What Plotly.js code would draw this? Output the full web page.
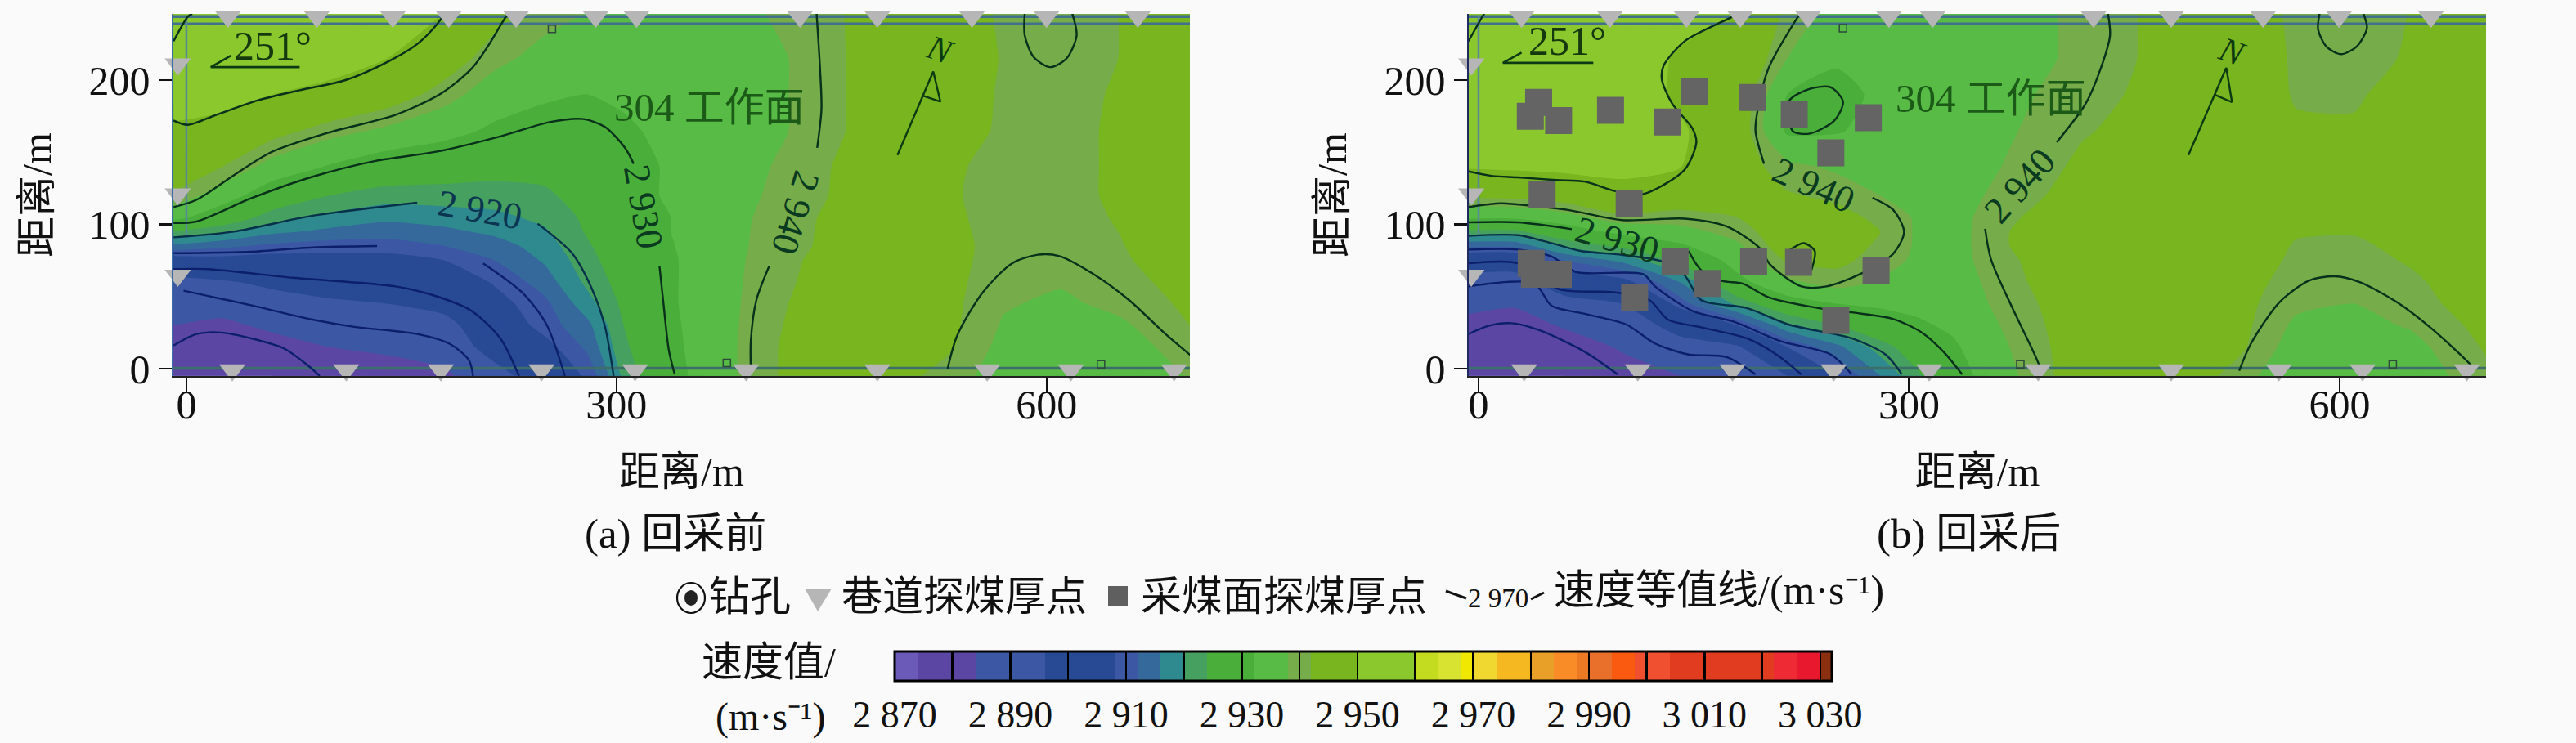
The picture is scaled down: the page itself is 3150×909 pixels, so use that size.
<!DOCTYPE html>
<html><head><meta charset="utf-8">
<script src="https://cdn.plot.ly/plotly-3.0.1.min.js"></script>
<style>html,body{margin:0;padding:0;background:#fafafa}</style></head>
<body><div id="chart" style="width:3150px;height:909px"></div>
<script>
// ---------- velocity grid (m/s); one array per column ----------
const gridX = [-9,25,60,100,140,180,215,250,280,305,330,370,420,470,530,570,610,650,702];
const gridY = [-5,15,30,45,60,75,85,95,105,120,140,165,190,215,247];
const zBefore = [
 [2876,2880,2884,2887,2893,2905,2915,2924,2934,2941.5,2945,2949,2953,2958,2959.5],
 [2876,2876,2882,2888,2895,2906,2913,2921,2928,2935,2942,2947,2953,2956,2959],
 [2876,2880,2886,2892,2898,2905.5,2911,2917,2922,2928,2936,2944,2950,2954,2958],
 [2876,2884,2889,2895,2899,2906,2910,2915,2919,2924,2931.5,2940,2948,2953,2957],
 [2879,2886,2891,2896,2901,2906,2910,2914,2917,2922,2928,2937,2945,2950,2954],
 [2882,2889,2893,2899,2904,2908,2912,2915,2918,2922,2927,2934,2940,2945,2950],
 [2892,2900.5,2903,2906,2908.5,2912,2914,2917,2919,2922,2926,2931,2935,2939.5,2944],
 [2902,2906,2910,2911,2914,2916.5,2918,2919.5,2921,2923,2926,2929,2933,2936,2940],
 [2909,2913,2915,2918.5,2921,2922.5,2923.5,2924.5,2925,2926.5,2928,2930,2932,2935,2938],
 [2921,2923,2924,2925,2926,2927,2927.5,2928,2928.5,2929,2929.5,2931,2933,2935,2938],
 [2928,2929,2929.5,2930,2930,2930,2930.5,2931,2931,2932,2932,2933,2934,2936,2938],
 [2936,2936,2936,2936,2936,2936,2936,2936,2936,2935.5,2935,2935,2935.5,2936,2937],
 [2943,2943,2942.5,2942,2941.5,2941,2940.5,2940.3,2940,2939.5,2939,2938,2938,2938,2938.5],
 [2947,2947,2947,2946,2946,2946,2945,2945,2945,2944,2944,2943,2943,2943,2943],
 [2940,2943,2943.5,2943.5,2943.5,2943.3,2943,2942.8,2942.6,2942.4,2942.3,2943,2943.5,2944,2944],
 [2936,2936.5,2937.5,2938.5,2939.5,2940.5,2941,2941,2941,2941,2941.5,2941.7,2941.7,2941.8,2941.5],
 [2934,2935,2936,2937,2938.5,2939.8,2940.5,2941,2941,2941,2941,2941,2941,2940.2,2938],
 [2934.5,2935.5,2937,2939.3,2940.7,2941.5,2941.8,2942,2942.2,2942.5,2942.5,2942.5,2942.3,2942,2942],
 [2938.5,2940.5,2942.2,2943,2943.5,2944,2944,2944,2944,2944,2944,2944,2944,2944,2944]
];
const zAfter = [
 [2876,2877,2882,2886,2892,2902,2913,2923,2933,2943,2950.5,2953,2955,2958.5,2959.5],
 [2876,2876,2880,2885,2891,2902,2913,2923,2933,2943.5,2951,2953,2955,2957,2959],
 [2876,2879,2885,2892,2903,2912,2921,2928,2936,2945,2951.5,2953,2955,2956,2958],
 [2880,2885,2889.5,2896,2906,2917,2925,2934,2941,2948,2951.5,2953,2954,2955,2957],
 [2884,2892,2900,2910,2916,2925,2931,2936,2940.5,2945,2950.3,2950.8,2949,2949,2953],
 [2885,2895,2908,2921,2930,2934.5,2937,2940,2942,2944,2945,2946,2947,2948,2950],
 [2896,2908,2919,2929,2937,2942.5,2945,2945,2944,2942.5,2939.5,2931,2932,2938,2941],
 [2908,2915,2924,2932,2940.3,2943,2943.5,2944,2943.5,2941,2937,2931.5,2929.5,2933,2936],
 [2916,2922,2928.5,2933,2937.5,2940.5,2941.5,2942,2941,2938,2936,2934,2933.5,2934,2936],
 [2923,2927,2931,2933.5,2935.5,2937,2937.5,2937.5,2937.5,2936.5,2935,2934,2934,2934.5,2936],
 [2929,2931,2933,2934.5,2935,2936,2936,2936,2936,2935.5,2935,2935,2935,2935,2936],
 [2937,2938,2939,2940,2941,2941.5,2942,2942,2941.5,2940,2938.5,2937.5,2937,2937,2937],
 [2945,2945,2945,2945,2945,2945,2945,2945,2944.5,2944,2943,2941.5,2939.8,2938.5,2938.5],
 [2948,2948,2948,2948,2947,2947,2947,2947,2947,2946,2945,2944,2943.5,2943,2943],
 [2940,2943,2943.5,2943.5,2943.5,2943.5,2943.5,2943.5,2943.5,2943.5,2943.5,2943.5,2943.5,2943.5,2943.5],
 [2934,2935.5,2937,2939,2940.6,2941.5,2941.8,2942.2,2942.3,2942.5,2942.5,2942.3,2941.8,2941.7,2941.5],
 [2934,2935,2936.5,2938,2939.8,2941,2941.5,2942.2,2942.3,2942.5,2942.5,2942.3,2941.7,2940.5,2938],
 [2935,2936.5,2938.5,2940.6,2941.5,2942.3,2942.8,2943,2943,2943,2943,2943,2943,2942.5,2942.3],
 [2941,2942.5,2943.5,2944,2944,2944,2944,2944,2944,2944,2944,2944,2944,2944,2944]
];
// ---------- colour bands: [upper bound of band, colour] ----------
const bandTop = [2874,2884,2896,2908,2912,2916,2920,2924,2932,2938,2942,2950,2960,2964,2968,2970,2974,2980,2984,2988,2990,2994,2998,3004,3022,3026,3030,3034];
const bandCol = ['#6b5ab8','#5b47a3','#3c58a5','#284a95','#3c58a5','#35689b','#2f8a8f','#46a05f','#4aaf3a','#57bb45','#76ad4a','#78b51e','#8ac82e','#c4dc20','#d8e230','#f0e800','#f0d830','#f5b820','#e8a028','#fa8c28','#ec7a25','#e8702a','#fa5a10','#f05030','#e23c20','#ee2a35','#e8182e','#8a3010'];
// ---------- iso-velocity lines, before mining (x m, y m); null = gap for a label ----------
const b2960X=[-9,1,4], b2960Y=[227,244,246];
const b2950X=[-9,1,21,50,79,111,141,161,175,180], b2950Y=[172,169,176,186,193,200,213,225,239,246];
const b2940X=[-9,7,33,59,97,146,178,199,210,223,225], b2940Y=[112,117,134,150,163,176,191,208,223,244,246];
const b2930X=[-9,7,45,88,132,175,219,254,277,292,306,312,null,330,332.6,336.5,340.6], b2930Y=[101,102,118,133,144,150.5,161,171,173,167.5,153,142,null,71,47,13,-4];
const b2920X=[-9,33,88,161,null,245,269,283,292,298], b2920Y=[91,95,106,115,null,100.5,80,55,29,-5];
const b2910X=[-9,45,88,133,null,207,234,251,264], b2910Y=[80,81,84,85,null,73,53,31,-5];
const b2900X=[-9,15,74,146,175,199,219,232], b2900Y=[69,69,63,57,50,40,21,-5];
const b2890X=[-2,45,88,117,161,184,197,200], b2890Y=[54,44,34,29,24,17,6,-5];
const b2880X=[-9,7,24,45,68,85,93], b2880Y=[16,24,25,21,14,2,-5];
const bE2940X=[439.6,442,443,440,null,406.5,397.6,393.7,393.7], bE2940Y=[246,208,180,153,null,71,47.6,19,0];
const bArcX=[531,537.7,555.6,576,594,609,632,657.5,683,702], bArcY=[0,23,53,73,79,78,66,47.6,24,8];
const bLoopX=[584.8,584.8,591,602.6,614,621,618], bLoopY=[246,231,216,209,215,231,246];
// ---------- iso-velocity lines, after mining ----------
const a2960X=[-7,2.7,4], a2960Y=[227,244,246];
const a2950X=[-7,10,27.5,53.6,73.9,95.7,114.7,143.7,151.8,149,135,127.7,129,143.7,177,180], a2950Y=[136.7,133.5,132.6,130.7,129.7,123,121,138,157,166.6,183.6,200.6,210,227,244,246];
const a2940X=[-7,15.8,39,62.5,100,143.7,172.8,196,203.3,225,242.5,265.8,289,296.5,289,274.5,null,199,193,194.6,202,222.6,224], a2940Y=[112,114.6,112.7,110,103,104,98.6,83.5,72,57,57,65.5,79.7,94.8,110,118.4,null,142,164.7,179.8,208,244,246];
const a2930X=[-7,27.5,65,null,146.4,155,169.6,184,202,236.7,260,289,309,324,337], a2930Y=[101.4,101.4,96.7,null,81.6,68.4,60.8,59,49.5,42,39,34.4,25,11.7,-4];
const aIslandX=[216.4,231,245.5,254,248,231,219,216.4], aIslandY=[185.5,194,195,185,172,163,164.7,185.5];
const aSmallX=[216,226.6,234.3,232], aSmallY=[81.6,87,81.6,68.4];
const a2920X=[-7,27.5,50.7,71,100,129,143.7,155,187,216,260,283.6,295], a2920Y=[92,92.5,87,81.6,78.8,74,64.6,47.6,42,30.6,21,9.8,-4];
const a2910X=[-7,27.5,50.7,68,114.7,123,149,178,210.5,245.5,260], a2910Y=[82.5,82.5,77.8,67,65.5,57,40,32.5,19,9.8,-4];
const a2900X=[-7,27.5,56.4,94,119,132,155,187,207.6,225], a2900Y=[73,73,55,53,47.6,34,28.7,21,9.8,-4];
const a2890X=[-7,39,50.7,74,103,123,146.4,172.8,193], a2890Y=[57,59,43.8,38,30.6,17.4,9.8,8,-4];
const a2880X=[-7,7,23,42,74,97], a2880Y=[24,29.7,31.5,26.8,11.7,-4];
const aE2940X=[438.6,440,433.5,423,402.9,null,353,357,372,390,392], aE2940Y=[246,231,208,183.6,157,null,97,76,42,4,-4];
const aArcX=[530,538,558,578.6,596.6,614,640,665,690,694], aArcY=[-1.5,17,46,61,64,60,46,27,4,-1];
const aLoopX=[586,585,591,601,611.6,619,616.6], aLoopY=[246,235,223,218,223,236,246];
// ---------- thickness-probe points ----------
const bTopX=[29,91,144,183,230,285.5,314,428,482,548,600,663.7], aTopX=[30,91.6,145,182.4,229.6,286,316.4,428.5,482.6,546.6,599.6,663.6];
const bBotX=[32,111.5,177.5,247.7,313,390.5,482,558.6,617,689], aBotX=[31.8,111,177,247.5,314,390,482.6,557.6,616,688.6];
const sideY=[211,121,64.6];
const faceX=[41.9,36.1,55.8,92,131.5,150.4,191,220,271.6,245.5,44.3,105,137,191.7,223,277,159.7,108.8,36.7,39,55.6,249];
const faceY=[184.5,175,172,179,171,192,188,176,174,149.6,121,114.6,74.4,74,73.7,67.8,59,49.5,73,65.5,65.5,33.4];
// ---------- small frame notches ----------
const bNotchX=[50,156.6,532.6,377,638,255,514.6], bNotchY=[-6.5,-6.5,-9,4,3,235.5,247];
const aNotchX=[50,156,532,377.5,637,254,515], aNotchY=[-6.5,-7.5,-9,3,3,236,247];
// ---------- texts ----------
const tickLabels=['2 870','2 890','2 910','2 930','2 950','2 970','2 990','3 010','3 030'];
const levelStart=2870, levelEnd=3032, levelStep=2;

const FONT='"Liberation Serif","Noto Sans CJK SC",serif';
const span=(levelEnd-levelStart)+levelStep;
const f=v=>Math.min(1,Math.max(0,(v-(levelStart-levelStep/2))/span));
const colorscale=[]; let lo=levelStart-levelStep/2;
bandTop.forEach((t,i)=>{colorscale.push([f(lo),bandCol[i]]);colorscale.push([f(t),bandCol[i]]);lo=t;});
colorscale[0][0]=0; colorscale[colorscale.length-1][0]=1;

const barVals=[],barText=[];
for(let i=0;i<=16;i++){barVals.push(2870+i*10);barText.push(i%2?' ':tickLabels[i/2]);}

function fill(z,xa,ya,bar){
 return {type:'contour',x:gridX,y:gridY,z:z,transpose:true,xaxis:xa,yaxis:ya,
  autocontour:false,contours:{start:levelStart,end:levelEnd,size:levelStep,coloring:'fill',showlines:false},
  line:{width:0,smoothing:0.6},colorscale:colorscale,zauto:false,zmin:levelStart,zmax:levelEnd,hoverinfo:'skip',
  showscale:bar,
  colorbar:bar?{orientation:'h',lenmode:'pixels',len:1146,thicknessmode:'pixels',thickness:36,
    x:1667/3150,xanchor:'center',y:1-797/909,yanchor:'top',xpad:0,ypad:0,
    tickmode:'array',tickvals:barVals,ticktext:barText,ticks:'inside',ticklen:36,tickwidth:2.5,tickcolor:'#000',
    tickfont:{family:FONT,size:46,color:'#111'},outlinecolor:'#000',outlinewidth:3,borderwidth:0}:undefined};
}
function line(x,y,xa,ya,col,w){return {type:'scatter',mode:'lines',x:x,y:y,xaxis:xa,yaxis:ya,connectgaps:false,
  line:{color:col||'#08301a',width:w||2.4,shape:'spline',smoothing:0.8},hoverinfo:'skip',showlegend:false};}
function poly(x,y,xa,ya,col,w){return {type:'scatter',mode:'lines',x:x,y:y,xaxis:xa,yaxis:ya,cliponaxis:false,
  line:{color:col,width:w},hoverinfo:'skip',showlegend:false};}
function tri(x,y,xa,ya,size){return {type:'scatter',mode:'markers',x:x,y:y,xaxis:xa,yaxis:ya,cliponaxis:false,
  marker:{symbol:'triangle-down',size:size||28,color:'#b6b6b6',line:{width:0}},hoverinfo:'skip',showlegend:false};}
function notch(x,y,xa,ya){return {type:'scatter',mode:'markers',x:x,y:y,xaxis:xa,yaxis:ya,cliponaxis:false,
  marker:{symbol:'square-open',size:9,color:'#2d4a3a',line:{width:1.5}},hoverinfo:'skip',showlegend:false};}

const NAVY='#0c1f6a', TEAL='#07304a';
function frame(xa,ya,col,xMin){return [
 poly([xMin,702],[244,244],xa,ya,'#41708f',3.5),
 poly([xMin,702],[239,239],xa,ya,'#41708f',3.5),
 poly([xMin,702],[0.3,0.3],xa,ya,'#3c6e6a',3.5),
 poly([0,0],[92,244],xa,ya,'#5a8a98',2.5),
 poly([xMin,xMin-12,xMin-12,xMin],[85.4,85.4,79.8,79.8],xa,ya,col,1.8),
 poly([xMin-6,xMin-6,xMin],[244,232,228],xa,ya,col,1.8),
 poly([xMin,xMin-13],[-5,-5],xa,ya,'#222',2.5)
];}
const traces=[
 fill(zBefore,'x','y',true), fill(zAfter,'x2','y2',false),
 ...frame('x','y','#3a6ea5',-9.1), ...frame('x2','y2','#1e2a60',-6.8),
 line(b2960X,b2960Y,'x','y'),line(b2950X,b2950Y,'x','y'),line(b2940X,b2940Y,'x','y'),line(b2930X,b2930Y,'x','y'),
 line(b2920X,b2920Y,'x','y',TEAL),line(b2910X,b2910Y,'x','y',NAVY),line(b2900X,b2900Y,'x','y',NAVY),line(b2890X,b2890Y,'x','y',NAVY),line(b2880X,b2880Y,'x','y',NAVY),
 line(bE2940X,bE2940Y,'x','y'),line(bArcX,bArcY,'x','y'),line(bLoopX,bLoopY,'x','y'),
 line(a2960X,a2960Y,'x2','y2'),line(a2950X,a2950Y,'x2','y2'),line(a2940X,a2940Y,'x2','y2'),line(a2930X,a2930Y,'x2','y2'),
 line(aIslandX,aIslandY,'x2','y2'),line(aSmallX,aSmallY,'x2','y2'),
 line(a2920X,a2920Y,'x2','y2',TEAL),line(a2910X,a2910Y,'x2','y2',NAVY),line(a2900X,a2900Y,'x2','y2',NAVY),line(a2890X,a2890Y,'x2','y2',NAVY),line(a2880X,a2880Y,'x2','y2',NAVY),
 line(aE2940X,aE2940Y,'x2','y2'),line(aArcX,aArcY,'x2','y2'),line(aLoopX,aLoopY,'x2','y2'),
 // north arrows and the 251 degree mark
 poly([496,521,526,513],[148,206,185,189.4],'x','y','#0c3a12',2.4),
 poly([494.6,521,525,512.6],[148,208.5,184.7,190],'x2','y2','#0c3a12',2.4),
 poly([31,17,79],[217,209,209],'x','y','#0c3a12',2.6),
 poly([30,17,80],[219,212,212],'x2','y2','#0c3a12',2.6),
 notch(bNotchX,bNotchY,'x','y'),notch(aNotchX,aNotchY,'x2','y2'),
 tri(bTopX,bTopX.map(()=>244),'x','y'),tri([-3],[246.5],'x','y',32),tri(bBotX,bBotX.map(()=>-1),'x','y'),tri(sideY.map(()=>-6),sideY,'x','y'),
 tri(aTopX,aTopX.map(()=>244),'x2','y2'),tri([-3],[246.5],'x2','y2',32),tri(aBotX,aBotX.map(()=>-1),'x2','y2'),tri(sideY.map(()=>-5),sideY,'x2','y2'),
 {type:'scatter',mode:'markers',x:faceX,y:faceY,xaxis:'x2',yaxis:'y2',cliponaxis:false,
  marker:{symbol:'square',size:33,color:'#646464',line:{width:0}},hoverinfo:'skip',showlegend:false}
];

const PX=x=>x/3150, PY=y=>1-y/909;
function note(text,px,py,size,extra){return Object.assign({text:text,xref:'paper',yref:'paper',x:PX(px),y:PY(py),showarrow:false,
  xanchor:'center',yanchor:'middle',font:{family:FONT,size:size,color:'#111'}},extra||{});}
function lab(text,x,y,xa,ya,angle,size,col,italic){return {text:text,xref:xa,yref:ya,x:x,y:y,showarrow:false,textangle:angle||0,
  xanchor:'center',yanchor:'middle',font:{family:FONT,size:size||46,color:col||'#0a3a20',style:italic?'italic':'normal'}};}
const annotations=[
 lab('2 920',205,110,'x','y',10,46,'#0b3550'),
 lab('2 930',319,112,'x','y',80),
 lab('2 940',425,108,'x','y',107),
 lab('304 工作面',365,181,'x','y',0,49,'#1c5a18'),
 lab('251°',60,224,'x','y',0,50,'#16380f'),
 lab('N',526,221,'x','y',20,42,'#0c3a12',true),
 lab('2 930',97,89.5,'x2','y2',16),
 lab('2 940',233.7,127,'x2','y2',24),
 lab('2 940',377.5,127,'x2','y2',-48),
 lab('304 工作面',357,187,'x2','y2',0,49,'#1c5a18'),
 lab('251°',62,227,'x2','y2',0,50,'#16380f'),
 lab('N',525,220,'x2','y2',20,42,'#0c3a12',true),
 note('(a) 回采前',826,653,51),
 note('(b) 回采后',2407,653,51),
 note('钻孔',917,730,50),
 note('巷道探煤厚点',1179,730,50),
 note('采煤面探煤厚点',1570,730,50),
 note('2 970',1832,732,33),
 note('速度等值线/(m·s⁻¹)',2102,722,50),
 note('速度值/',940,810,50),
 note('(m·s⁻¹)',942,877,48)
];
const shapes=[
 {type:'circle',xref:'paper',yref:'paper',x0:PX(828),x1:PX(862),y0:PY(713),y1:PY(750),line:{color:'#111',width:2.2},fillcolor:'rgba(0,0,0,0)'},
 {type:'circle',xref:'paper',yref:'paper',x0:PX(837),x1:PX(853),y0:PY(722),y1:PY(741),line:{width:0},fillcolor:'#222'},
 {type:'path',xref:'paper',yref:'paper',path:`M${PX(984)},${PY(720)} L${PX(1017)},${PY(720)} L${PX(1000)},${PY(748)} Z`,line:{width:0},fillcolor:'#b6b6b6'},
 {type:'rect',xref:'paper',yref:'paper',x0:PX(1355),x1:PX(1379),y0:PY(717),y1:PY(742),line:{width:0},fillcolor:'#5f5f5f'},
 {type:'line',xref:'paper',yref:'paper',x0:PX(1768),x1:PX(1793),y0:PY(723),y1:PY(732),line:{color:'#111',width:3}},
 {type:'line',xref:'paper',yref:'paper',x0:PX(1872),x1:PX(1888),y0:PY(733),y1:PY(725),line:{color:'#111',width:3}}
];
function xax(dom,range,anchor){return {domain:dom,range:range,anchor:anchor,tickmode:'array',tickvals:[0,300,600],ticktext:['0','300','600'],
  ticks:'outside',ticklen:18,tickwidth:2,tickcolor:'#111',showgrid:false,zeroline:false,showline:true,linecolor:'#222',linewidth:2,ticklabelstandoff:-28,
  tickfont:{family:FONT,size:50,color:'#111'},title:{text:'距离/m',font:{family:FONT,size:50,color:'#111'},standoff:37}};}
function yax(anchor,lineCol){return {domain:[1-460/909,1-17/909],range:[-5.1,245.9],anchor:anchor,tickmode:'array',tickvals:[0,100,200],ticktext:['0','100','200'],
  ticks:'outside',ticklen:16,tickwidth:2.5,tickcolor:'#111',showgrid:false,zeroline:false,showline:true,linecolor:lineCol,linewidth:2.5,
  tickfont:{family:FONT,size:50,color:'#111'},title:{text:'距离/m',font:{family:FONT,size:50,color:'#111'},standoff:30}};}
const layout={width:3150,height:909,autosize:false,paper_bgcolor:'#fafafa',plot_bgcolor:'#fafafa',showlegend:false,
 margin:{l:0,r:0,t:0,b:0,pad:0,autoexpand:false},
 xaxis:xax([212/3150,1455/3150],[-9.1,700],'y'),
 xaxis2:xax([1796/3150,3040/3150],[-6.8,702],'y2'),
 yaxis:yax('x','#3a6ea5'),yaxis2:yax('x2','#1e2a60'),
 annotations:annotations,shapes:shapes};
Plotly.newPlot('chart',traces,layout,{displayModeBar:false,staticPlot:true});
</script></body></html>
